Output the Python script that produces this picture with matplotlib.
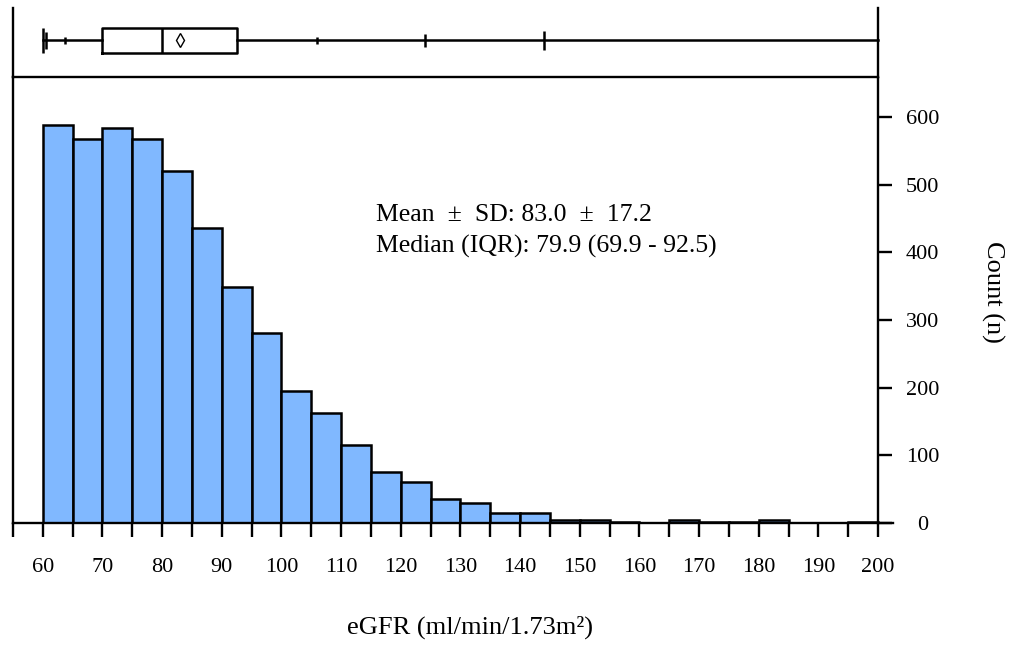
import numpy as np
import matplotlib
matplotlib.use("Agg")
import matplotlib.pyplot as plt

plt.rcParams.update({"font.family": ["Liberation Serif", "DejaVu Serif"],
                     "axes.linewidth": 1.7})

# histogram of eGFR, 5-unit bins from 60 to 200
bin_edges = np.arange(60, 205, 5)
counts = [588, 568, 584, 568, 520, 436, 349, 281, 195, 163, 115, 75, 61, 35,
          30, 15, 15, 4, 4, 2, 0, 5, 2, 2, 5, 0, 0, 2]

# summary for the box strip
egfr_min, egfr_max = 60.0, 200.0
q1, median, q3 = 69.9, 79.9, 92.5
mean, sd = 83.0, 17.2
# extra percentile marks along the whisker line
pct_marks = [60.6, 63.7, 106.0, 124.0, 144.0]
pct_half = [0.12, 0.045, 0.045, 0.095, 0.14]

BAR = "#80b8ff"
XLIM = (55, 202.5)

fig = plt.figure(figsize=(10.15, 6.47), dpi=100)
ax = fig.add_axes([13 / 1015, 1 - 523 / 647, 880 / 1015, 446 / 647])
axb = fig.add_axes([13 / 1015, 1 - 77 / 647, 880 / 1015, 69 / 647])

# ---- main histogram ----
ax.bar(bin_edges[:-1], counts, width=5, align="edge", color=BAR,
       edgecolor="black", linewidth=1.8)
ax.set_xlim(*XLIM)
ax.set_ylim(0, 659)
ax.spines["top"].set_visible(False)
ax.spines["right"].set_position(("data", 200))
ax.yaxis.tick_right()
ax.set_yticks(np.arange(0, 700, 100))
ax.set_xticks(np.arange(60, 210, 10))
ax.set_xticks(np.arange(55, 200, 5), minor=True)
ax.tick_params(axis="x", which="both", direction="out", length=10, width=1.7,
               pad=15, labelsize=16)
ax.tick_params(axis="y", direction="out", length=10, width=1.7, pad=22,
               labelsize=16)
for lab in ax.get_yticklabels():
    lab.set_horizontalalignment("center")

ax.set_xlabel("eGFR (ml/min/1.73m²)", fontsize=19, va="center")
ax.xaxis.set_label_coords(0.519, -0.233)
ax.yaxis.set_label_position("right")
ax.set_ylabel("Count (n)", fontsize=19, rotation=270, va="center")
ax.yaxis.set_label_coords(1.1136, 0.518)

ax.text(0.4125, 0.69, f"Mean  ±  SD: {mean:.1f}  ±  {sd:.1f}", transform=ax.transAxes,
        fontsize=18.5, va="center", ha="left")
ax.text(0.4125, 0.619, f"Median (IQR): {median:.1f} ({q1:.1f} - {q3:.1f})",
        transform=ax.transAxes, fontsize=18.5, va="center", ha="left")

# ---- box strip on top ----
stats = [{"whislo": egfr_min, "q1": q1, "med": median, "q3": q3,
          "whishi": egfr_max, "mean": mean, "fliers": []}]
line_kw = {"color": "black", "linewidth": 1.8}
axb.bxp(stats, positions=[0.53], widths=0.35, vert=False, showmeans=True,
        showcaps=False, boxprops=line_kw, whiskerprops=line_kw,
        medianprops=line_kw,
        meanprops={"marker": "d", "markersize": 7, "markerfacecolor": "white",
                   "markeredgecolor": "black", "markeredgewidth": 1.0})
axb.vlines(egfr_min, 0.53 - 0.175, 0.53 + 0.175, color="black", linewidth=1.8)
for v, h in zip(pct_marks, pct_half):
    axb.vlines(v, 0.53 - h, 0.53 + h, color="black", linewidth=1.8)
axb.set_xlim(*XLIM)
axb.set_ylim(0, 1)
axb.spines["top"].set_visible(False)
axb.spines["right"].set_position(("data", 200))
axb.spines["bottom"].set_bounds(XLIM[0], 200)
axb.set_xticks([])
axb.set_yticks([])

fig.savefig("out.png", dpi=100)
